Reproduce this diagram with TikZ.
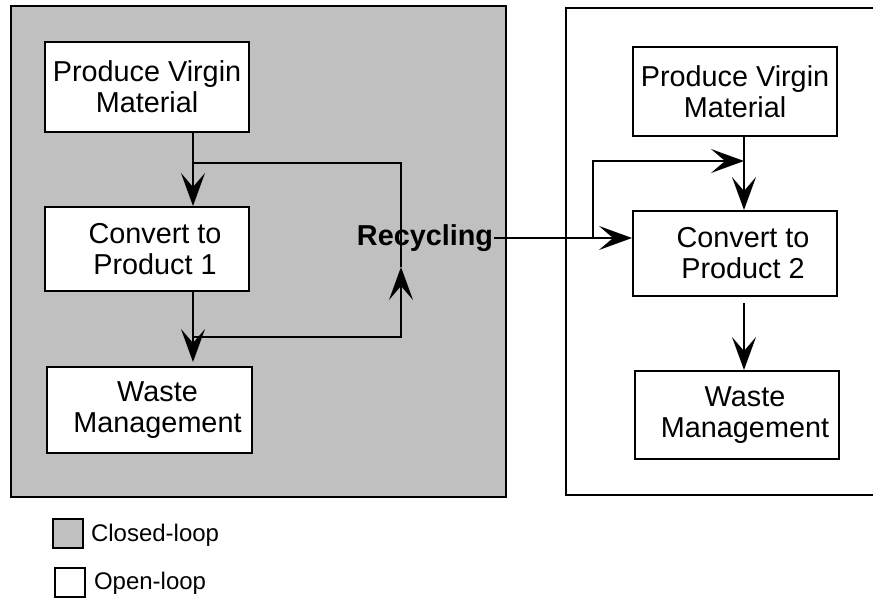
\documentclass[tikz,border=0pt]{standalone}
\usepackage{fontspec}
\setmainfont{Liberation Sans}
\usetikzlibrary{arrows.meta}
\definecolor{loopgray}{RGB}{192,192,192}
\begin{document}
\begin{tikzpicture}[x=0.5pt,y=-0.5pt,
  every path/.style={line width=1pt},
  box/.style={draw, fill=white, line width=1pt, align=center, inner sep=0pt,
    font=\fontsize{14.4}{15.5}\selectfont, minimum width=102pt},
  arr/.style={-{Stealth[length=16.5pt,width=12pt,inset=7pt]}},
  lgbox/.style={draw, line width=1pt, minimum width=15pt, minimum height=14.5pt, inner sep=0pt},
  lgtext/.style={anchor=west, inner sep=0pt, font=\fontsize{12}{14}\selectfont}]
\useasboundingbox (0,0) rectangle (873,599);
% regions
\draw[fill=loopgray] (11,6) rectangle (506,497);
\draw (880,8) -- (566,8) -- (566,495) -- (880,495);
% left column
\node[box, minimum height=45pt] (pvm1) at (147,87) {Produce Virgin\\Material};
\node[box, minimum height=42pt] (c1) at (147,249) {\hspace*{8pt}Convert to\\\hspace*{8pt}Product 1};
\node[box, minimum width=102.5pt, minimum height=43pt] (w1) at (149.5,410) {\hspace*{8pt}Waste\\\hspace*{8pt}Management};
% right column
\node[box, minimum height=44.5pt] (pvm2) at (735,91.5) {Produce Virgin\\Material};
\node[box, minimum height=42.5pt] (c2) at (735,253.5) {\hspace*{8pt}Convert to\\\hspace*{8pt}Product 2};
\node[box, minimum height=44pt] (w2) at (737,415) {\hspace*{8pt}Waste\\\hspace*{8pt}Management};
% recycling label
\node[font=\fontsize{14.4}{16}\bfseries, inner sep=0pt] (rec) at (425,238) {Recycling};
% coordinates
\coordinate (j1) at (193,163);
\coordinate (j2) at (193,337);
\coordinate (r1) at (401,163);
\coordinate (r2) at (401,337);
\coordinate (rt) at (401,267);
\coordinate (b1) at (593,238);
\coordinate (b2) at (593,161);
\coordinate (k) at (744,161);
% left connectors
\draw (pvm1.south -| j1) -- (j1);
\draw[arr] (j1) -- (c1.north -| j1);
\draw (c1.south -| j2) -- (j2);
\draw[arr] (j2) -- ([yshift=2pt]w1.north -| j2);
\draw[arr] (j2) -- (r2) -- (rt);
\draw (rt) -- (r1) -- (j1);
% recycling to right
\draw[arr] (rec.east) -- (c2.west |- rec.east);
\draw[arr] (b1) -- (b2) -- (k);
\draw (pvm2.south -| k) -- (k);
\draw[arr] (k) -- (c2.north -| k);
\draw[arr, shorten <=3pt] (c2.south -| k) -- (w2.north -| k);
% legend
\node[lgbox, fill=loopgray] (lg1) at (67.5,533.5) {};
\node[lgtext] (lt1) at (90,535) {Closed-loop};
\node[lgbox, fill=white] (lg2) at (69.5,582.5) {};
\node[lgtext] (lt2) at (93,583) {Open-loop};
\end{tikzpicture}
\end{document}
